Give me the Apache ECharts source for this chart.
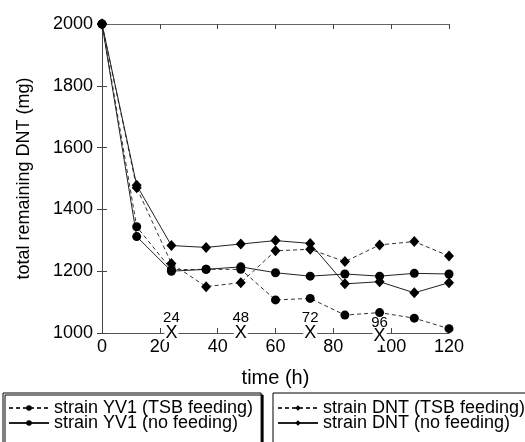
<!DOCTYPE html>
<html>
<head>
<meta charset="utf-8">
<script src="https://cdn.jsdelivr.net/npm/echarts@6/dist/echarts.min.js"></script>
<style>
  html, body { margin: 0; padding: 0; background: #fff; }
  #chart { width: 525px; height: 442px; }
</style>
</head>
<body>
<div id="chart"></div>
<script>
// sampling times (h)
const times = [0, 12, 24, 36, 48, 60, 72, 84, 96, 108, 120];

// total remaining DNT (mg)
const yv1Tsb = [2000, 1344, 1205, 1206, 1206, 1107, 1112, 1058, 1066, 1048, 1014];
const yv1None = [2000, 1312, 1200, 1206, 1214, 1195, 1184, 1191, 1184, 1193, 1191];
const dntTsb = [2000, 1470, 1225, 1150, 1163, 1266, 1271, 1231, 1285, 1296, 1249];
const dntNone = [2000, 1478, 1283, 1277, 1288, 1299, 1290, 1159, 1166, 1130, 1163];

// feeding marks on the time axis
const feedTimes = [24, 48, 72, 96];
const feedLabels = ["24", "48", "72", "96"];

const names = [
  "strain YV1 (TSB feeding)",
  "strain YV1 (no feeding)",
  "strain DNT (TSB feeding)",
  "strain DNT (no feeding)"
];

const FONT = "Liberation Sans, Arial, sans-serif";

function pairs(ys) {
  return times.map((t, i) => [t, ys[i]]);
}

function lineSeries(name, ys, symbol, dashed) {
  return {
    name: name,
    type: "line",
    data: pairs(ys),
    symbol: symbol,
    symbolSize: symbol === "diamond" ? [10, 11] : 9,
    itemStyle: { color: "#000" },
    lineStyle: {
      color: dashed ? "#333" : "#222",
      width: 1,
      type: dashed ? [4, 3] : "solid"
    },
    z: 3
  };
}

function markSeries(name, makeLabel) {
  return {
    name: name,
    type: "scatter",
    symbolSize: 1,
    itemStyle: { color: "rgba(0,0,0,0)", opacity: 1 },
    z: 5,
    data: feedTimes.map((t, i) => ({ value: [t, 1000], label: makeLabel(i) }))
  };
}

const series = [
  lineSeries(names[0], yv1Tsb, "circle", true),
  lineSeries(names[1], yv1None, "circle", false),
  lineSeries(names[2], dntTsb, "diamond", true),
  lineSeries(names[3], dntNone, "diamond", false),
  markSeries("feed", i => ({
    show: true,
    position: "inside",
    offset: [0, i === 3 ? 3 : 0],
    formatter: "X",
    color: "#000",
    opacity: 1,
    fontFamily: FONT,
    fontSize: 18,
    textBorderWidth: 0,
    backgroundColor: "#fff",
    padding: [0, 1]
  })),
  markSeries("feedNum", i => ({
    show: true,
    position: "inside",
    offset: [0, i === 3 ? -10 : -15],
    formatter: feedLabels[i],
    color: "#000",
    opacity: 1,
    textBorderWidth: 0,
    fontFamily: FONT,
    fontSize: 15
  }))
];

const legendBase = {
  orient: "vertical",
  top: 393,
  height: 80,
  itemWidth: 40,
  itemHeight: 7,
  itemGap: -3,
  borderColor: "#000",
  borderWidth: 1,
  borderRadius: 0,
  backgroundColor: "#fff",
  textStyle: { color: "#000", fontFamily: FONT, fontSize: 18, lineHeight: 15 }
};

const option = {
  animation: false,
  backgroundColor: "#fff",
  grid: { left: 102, right: 76, top: 24, bottom: 109 },
  legend: [
    Object.assign({}, legendBase, {
      left: 3,
      padding: [6, 8, 14, 5],
      data: [names[0], names[1]],
      shadowColor: "#000",
      shadowOffsetX: 2,
      shadowOffsetY: 2,
      shadowBlur: 0
    }),
    Object.assign({}, legendBase, {
      left: 273,
      padding: [6, 8, 14, 4],
      data: [names[2], names[3]]
    })
  ],
  xAxis: [
    {
      type: "value",
      min: 0,
      max: 120,
      interval: 20,
      name: "time (h)",
      nameLocation: "middle",
      nameGap: 35,
      nameTextStyle: { color: "#000", fontFamily: FONT, fontSize: 20 },
      axisLine: { lineStyle: { color: "#555", width: 1 } },
      axisTick: { inside: true, length: 5, lineStyle: { color: "#444" } },
      axisLabel: { color: "#000", fontFamily: FONT, fontSize: 18, margin: 5, formatter: v => String(v) },
      splitLine: { show: false }
    },
    {
      type: "value",
      position: "top",
      min: 0,
      max: 120,
      interval: 20,
      axisLine: { lineStyle: { color: "#666", width: 1 } },
      axisTick: { inside: true, length: 5, lineStyle: { color: "#444" } },
      axisLabel: { show: false },
      splitLine: { show: false }
    }
  ],
  yAxis: [
    {
      type: "value",
      min: 1000,
      max: 2000,
      interval: 200,
      name: "total remaining DNT (mg)",
      nameLocation: "middle",
      nameGap: 69,
      nameTextStyle: { color: "#000", fontFamily: FONT, fontSize: 18 },
      axisLine: { show: true, lineStyle: { color: "#777", width: 1 } },
      axisTick: { show: true, inside: true, length: 5, lineStyle: { color: "#444" } },
      axisLabel: { color: "#000", fontFamily: FONT, fontSize: 18, margin: 9, formatter: v => String(v) },
      splitLine: { show: false }
    },
    {
      type: "value",
      position: "right",
      min: 1000,
      max: 2000,
      interval: 200,
      axisLine: { show: true, lineStyle: { color: "#444", width: 1 } },
      axisTick: { show: true, inside: true, length: 5, lineStyle: { color: "#444" } },
      axisLabel: { show: false },
      splitLine: { show: false }
    }
  ],
  series: series
};

const chart = echarts.init(document.getElementById("chart"), null, { renderer: "canvas" });
chart.setOption(option);
</script>
</body>
</html>
